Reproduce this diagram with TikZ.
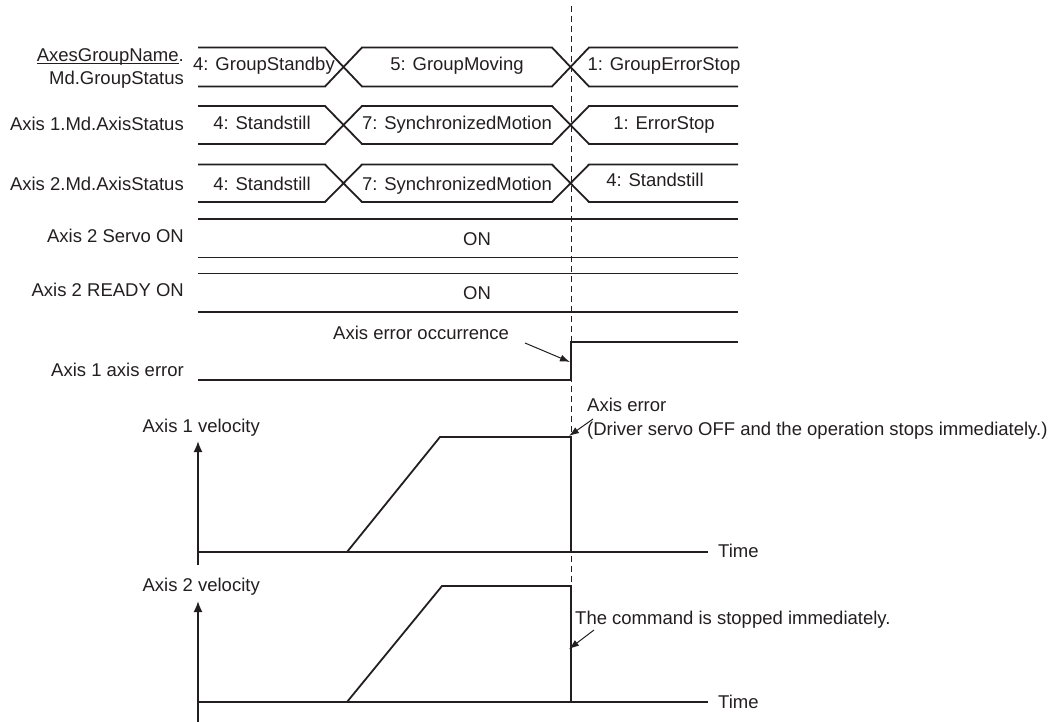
\documentclass[tikz,border=0pt]{standalone}
\usepackage{fontspec}
\setmainfont{Liberation Sans}
\usetikzlibrary{arrows.meta}
\definecolor{ink}{HTML}{231F20}
\tikzset{
  sig/.style={line width=1.8pt, draw=ink, line join=miter},
  lbl/.style={inner sep=0pt, text=ink, font=\fontsize{18.5}{23.3}\selectfont},
  pointer/.style={line width=1pt, draw=ink, -{Latex[length=10pt,width=7pt]}},
  guide/.style={line width=1pt, draw=ink, dash pattern=on 6pt off 4pt},
}
\begin{document}
\begin{tikzpicture}[x=1pt,y=-1pt]
  \useasboundingbox (0,0) rectangle (1063,722);

  % status buses with two changes of state
  \foreach \t/\b in {47.5/86.5, 106/144, 164.5/202} {
    \draw[sig] (198,\t) -- (325,\t) -- (362,\b) -- (552,\b) -- (589,\t) -- (738,\t);
    \draw[sig] (198,\b) -- (325,\b) -- (362,\t) -- (552,\t) -- (589,\b) -- (738,\b);
  }

  % levels that stay on
  \foreach \y in {219, 257.5, 273.5, 312} {
    \draw[sig] (198,\y) -- (738,\y);
  }

  % axis error signal
  \draw[sig] (198,380) -- (571,380) -- (571,342) -- (738,342);

  % velocity charts
  \draw[sig, -{Latex[length=11pt,width=9pt]}] (198,565) -- (198,441);
  \draw[sig] (198,552) -- (708,552);
  \draw[sig] (347,552) -- (440,437) -- (571,437) -- (571,552);

  \draw[sig, -{Latex[length=11pt,width=9pt]}] (198,722) -- (198,601);
  \draw[sig] (198,702) -- (708,702);
  \draw[sig] (347,702) -- (442,586) -- (571,586) -- (571,702);

  % moment of the error
  \draw[guide] (571,6) -- (571,586);

  % signal names
  \node[lbl, anchor=base east, align=right] (grp) at (184,85) {\underline{\smash{AxesGroupName}}.\\Md.GroupStatus};
  \node[lbl, anchor=base east] (ax1st) at (184,130.5) {Axis 1.Md.AxisStatus};
  \node[lbl, anchor=base east] (ax2st) at (184,190.5) {Axis 2.Md.AxisStatus};
  \node[lbl, anchor=base east] (servo) at (184,242.5) {Axis 2 Servo ON};
  \node[lbl, anchor=base east] (ready) at (184,296.5) {Axis 2 READY ON};
  \node[lbl, anchor=base east] (err) at (184,376.5) {Axis 1 axis error};
  \node[lbl, anchor=base east] (vel1) at (260,432.5) {Axis 1 velocity};
  \node[lbl, anchor=base east] (vel2) at (260,591.5) {Axis 2 velocity};
  \node[lbl, anchor=base west] (time1) at (718,557) {Time};
  \node[lbl, anchor=base west] (time2) at (718,708) {Time};

  % states
  \node[lbl, anchor=base] (gstandby) at (264,71) {4: GroupStandby};
  \node[lbl, anchor=base] (gmoving) at (457,71) {5: GroupMoving};
  \node[lbl, anchor=base] (gerrstop) at (664,71) {1: GroupErrorStop};
  \node[lbl, anchor=base] (a1still) at (262,130) {4: Standstill};
  \node[lbl, anchor=base] (a1sync) at (457,130) {7: SynchronizedMotion};
  \node[lbl, anchor=base] (a1errstop) at (664,130) {1: ErrorStop};
  \node[lbl, anchor=base] (a2still) at (262,191) {4: Standstill};
  \node[lbl, anchor=base] (a2sync) at (457,191) {7: SynchronizedMotion};
  \node[lbl, anchor=base] (a2still2) at (655,187) {4: Standstill};
  \node[lbl, anchor=base] (servoon) at (477,246) {ON};
  \node[lbl, anchor=base] (readyon) at (477,299.5) {ON};

  % notes
  \node[lbl, anchor=base west] (occ) at (333,339) {Axis error occurrence};
  \node[lbl, anchor=base west, align=left] (errnote) at (587,435) {Axis error\\(Driver servo OFF and the operation stops immediately.)};
  \node[lbl, anchor=base west] (cmdnote) at (575,624) {The command is stopped immediately.};

  \coordinate (occtail) at (525,343);
  \coordinate (occtip) at (570,362);
  \coordinate (errtail) at (593,419);
  \coordinate (errtip) at (569,436);
  \coordinate (cmdtail) at (594,630);
  \coordinate (cmdtip) at (569,649);
  \draw[pointer] (occtail) -- (occtip);
  \draw[pointer] (errtail) -- (errtip);
  \draw[pointer] (cmdtail) -- (cmdtip);
\end{tikzpicture}
\end{document}
